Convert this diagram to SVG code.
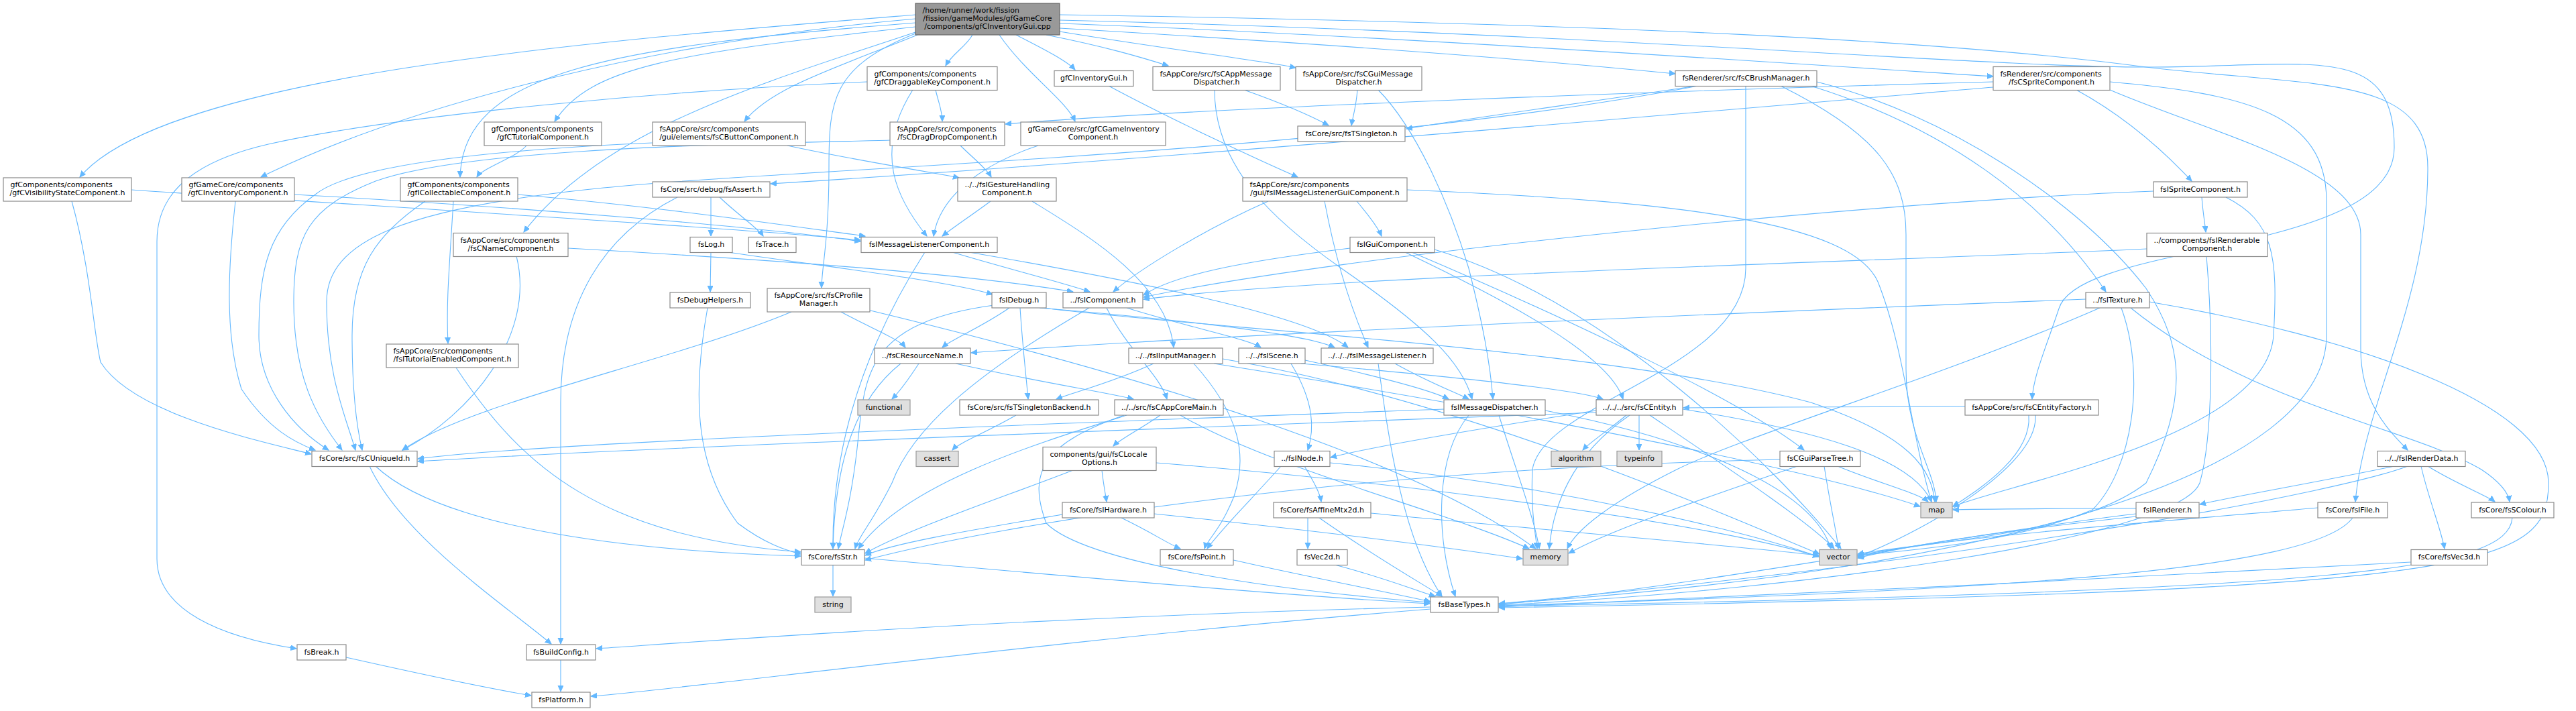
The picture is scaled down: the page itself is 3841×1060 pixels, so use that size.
<svg xmlns="http://www.w3.org/2000/svg" width="3841" height="1060" viewBox="0 0 3841 1060">
<defs>
<style>
.n rect{fill:#ffffff;stroke:#8a8a8a;stroke-width:1.2}
.g rect{fill:#e0e0e0;stroke:#999999;stroke-width:1.2}
.r rect{fill:#999999;stroke:#666666;stroke-width:1.2}
text{font-family:"DejaVu Sans","Liberation Sans",sans-serif;font-size:11px;fill:#000}
.m{text-anchor:middle}
.s{text-anchor:start}
#edges path{fill:none;stroke:#63b8ff;stroke-width:1.1;marker-end:url(#ah)}
</style>
<marker id="ah" markerUnits="userSpaceOnUse" markerWidth="12" markerHeight="10" refX="9" refY="4" orient="auto">
<path d="M0,0 L9,4 L0,8 z" fill="#63b8ff" stroke="#63b8ff"/>
</marker>
</defs>
<rect width="3841" height="1060" fill="#fff"/>
<g id="edges">
<path d="M1365,22 C900,60 250,110 119,264"/>
<path d="M1365,28 C1000,60 620,150 389,264"/>
<path d="M1365,34 C900,70 690,110 686,264"/>
<path d="M1365,40 C1000,80 880,100 827,181"/>
<path d="M1365,48 C1150,120 900,190 781,346"/>
<path d="M1450,52 C1440,70 1420,80 1410,98"/>
<path d="M1368,52 C1250,100 1150,130 1110,181"/>
<path d="M1515,52 C1550,70 1590,90 1603,104"/>
<path d="M1490,52 C1530,110 1590,150 1603,181"/>
<path d="M1560,52 C1650,70 1700,85 1742,98"/>
<path d="M1580,47 C1750,75 1880,90 1932,101"/>
<path d="M1580,42 C1800,55 2200,80 2498,110"/>
<path d="M1580,35 C2000,50 2600,90 2972,114"/>
<path d="M1580,30 C2400,50 2950,100 3200,100 C3450,100 3570,60 3570,220 C3570,380 3100,360 3070,460 C3050,520 3032,560 3030,595"/>
<path d="M1580,22 C2400,35 2900,60 3200,100 C3450,130 3620,110 3620,250 C3620,450 3525,600 3512,748"/>
<path d="M1365,50 C1240,100 1236,150 1236,250 C1236,360 1225,400 1225,429"/>
<path d="M785,217 C770,235 720,250 711,264"/>
<path d="M1395,134 C1400,155 1405,165 1405,181"/>
<path d="M1361,134 C1300,230 1340,300 1382,352"/>
<path d="M1293,122 C1000,135 600,170 400,215 C270,245 234,300 234,360 L234,833 C234,910 330,950 442,967"/>
<path d="M973,213 C700,225 520,250 470,290 C400,340 386,400 386,500 C386,580 440,640 490,671"/>
<path d="M1327,209 C1100,215 700,220 560,270 C460,310 438,350 438,450 C438,560 470,620 510,671"/>
<path d="M1174,217 C1280,240 1380,255 1430,265"/>
<path d="M1432,217 C1450,235 1470,250 1478,264"/>
<path d="M1548,217 C1450,250 1400,300 1392,352"/>
<path d="M1653,128 C1750,180 1880,240 1935,264"/>
<path d="M1855,134 C1900,150 1950,170 1981,187"/>
<path d="M1811,134 C1811,250 1900,330 2000,400 C2130,490 2180,540 2195,595"/>
<path d="M2024,134 C2022,160 2017,175 2015,187"/>
<path d="M2055,134 C2110,190 2160,300 2190,400 C2210,480 2222,540 2226,595"/>
<path d="M2530,128 C2350,155 2200,175 2097,192"/>
<path d="M2532,128 C2000,230 1200,250 900,280 C600,310 487,360 487,450 C487,560 515,620 530,671"/>
<path d="M2603,128 L2603,400 C2603,550 2300,600 2285,700 C2282,760 2290,800 2292,818"/>
<path d="M2655,128 C2800,200 2842,260 2842,350 L2842,550 C2842,650 2885,700 2887,748"/>
<path d="M2700,128 C2900,190 3050,300 3140,435"/>
<path d="M2709,122 C2900,170 3100,300 3200,430 C3260,520 3260,600 3200,720 C3100,800 2850,810 2770,826"/>
<path d="M3096,134 C3180,180 3240,240 3268,270"/>
<path d="M3146,134 C3300,200 3520,250 3520,350 L3520,520 C3520,600 3560,640 3590,671"/>
<path d="M3146,122 C3350,140 3469,170 3469,300 L3469,500 C3469,700 3000,850 2235,900"/>
<path d="M2972,122 C2500,135 1800,160 1499,185"/>
<path d="M2972,130 C2500,170 1700,240 1149,274"/>
<path d="M3283,294 C3285,320 3288,335 3289,346"/>
<path d="M3319,294 C3390,330 3397,380 3390,500 C3380,650 3000,720 2912,755"/>
<path d="M3211,285 C2800,300 2000,380 1705,443"/>
<path d="M3201,371 C2800,390 2000,410 1705,446"/>
<path d="M3290,382 C3300,500 3300,650 3280,720 C3250,800 2700,880 2235,902"/>
<path d="M3110,446 C2500,470 1800,500 1448,526"/>
<path d="M3131,459 C2900,560 2600,650 2500,700 C2400,750 2350,790 2337,818"/>
<path d="M3163,459 C3200,560 3180,700 3120,760 C3000,810 2850,820 2770,828"/>
<path d="M3177,459 C3350,600 3600,640 3700,700 C3730,720 3740,735 3742,748"/>
<path d="M3205,450 C3500,500 3800,600 3800,720 C3800,850 3700,880 2235,906"/>
<path d="M1539,300 C1620,350 1740,420 1750,518"/>
<path d="M1477,300 C1450,320 1420,340 1405,352"/>
<path d="M2023,300 C2040,320 2055,340 2060,352"/>
<path d="M1975,300 C1990,380 2010,450 2040,518"/>
<path d="M2098,283 C2500,300 2760,330 2800,420 C2840,520 2850,650 2880,748"/>
<path d="M1891,300 C1800,340 1700,400 1660,435"/>
<path d="M1420,376 C1500,400 1580,420 1625,435"/>
<path d="M1445,376 C1700,420 1950,470 2010,518"/>
<path d="M1379,376 C1300,500 1240,650 1242,818"/>
<path d="M2013,370 C1850,390 1750,410 1705,440"/>
<path d="M2095,376 C2250,450 2400,530 2420,595"/>
<path d="M2105,376 C2350,480 2600,600 2690,671"/>
<path d="M2139,372 C2400,450 2650,700 2745,818"/>
<path d="M1505,459 C1460,490 1420,505 1405,518"/>
<path d="M1521,459 C1525,520 1530,560 1533,595"/>
<path d="M1482,455 C1300,480 1290,550 1280,650 C1270,750 1255,790 1250,818"/>
<path d="M1550,459 C1800,480 1950,500 1990,518"/>
<path d="M1555,459 C1800,490 2400,520 2700,600 C2850,650 2880,700 2885,748"/>
<path d="M1060,376 L1059,435"/>
<path d="M1085,376 C1250,400 1420,420 1480,439"/>
<path d="M1055,459 C1030,600 1040,700 1100,780 C1140,810 1170,820 1194,826"/>
<path d="M1254,465 C1300,490 1340,505 1350,518"/>
<path d="M1180,465 C1000,540 700,600 600,671"/>
<path d="M1294,462 C1700,560 2100,680 2290,818"/>
<path d="M1650,459 C1680,520 1730,560 1740,595"/>
<path d="M1680,459 C1780,490 1860,505 1880,518"/>
<path d="M1624,459 C1450,560 1360,640 1330,720 C1300,780 1280,800 1275,818"/>
<path d="M1370,542 C1355,565 1340,585 1330,595"/>
<path d="M1425,542 C1550,570 1650,585 1690,595"/>
<path d="M1343,542 C1270,600 1245,700 1242,818"/>
<path d="M1720,542 C1660,570 1600,585 1575,595"/>
<path d="M1780,542 C1850,620 1860,680 1840,740 C1820,790 1800,805 1796,818"/>
<path d="M1823,535 C2200,600 2600,780 2713,826"/>
<path d="M1810,542 C2300,620 2700,700 2863,755"/>
<path d="M1925,542 C1960,600 1960,640 1950,671"/>
<path d="M1946,537 C2050,560 2130,580 2160,595"/>
<path d="M1940,542 C2150,560 2350,580 2390,595"/>
<path d="M2080,542 C2130,570 2170,585 2190,595"/>
<path d="M2055,542 C2070,650 2090,800 2150,889"/>
<path d="M1515,619 C1470,645 1430,660 1420,671"/>
<path d="M1730,619 C1700,640 1670,655 1660,665"/>
<path d="M1680,619 C1550,660 1350,720 1280,818"/>
<path d="M1760,619 C1900,700 2150,760 2280,818"/>
<path d="M1676,619 C1560,660 1530,700 1560,780 C1620,840 1900,880 2132,898"/>
<path d="M1643,701 C1645,720 1648,735 1650,748"/>
<path d="M1600,701 C1500,740 1350,790 1290,825"/>
<path d="M1724,690 C2100,720 2550,780 2712,830"/>
<path d="M1584,767 C1450,790 1330,810 1290,828"/>
<path d="M1672,772 C1720,795 1740,810 1760,818"/>
<path d="M1721,766 C1950,790 2150,815 2270,833"/>
<path d="M2190,619 C2140,680 2140,800 2170,889"/>
<path d="M2235,619 C2260,700 2290,780 2295,818"/>
<path d="M2304,612 C2500,650 2700,720 2730,818"/>
<path d="M2153,610 C1600,630 800,660 623,684"/>
<path d="M2425,619 C2400,640 2370,660 2360,671"/>
<path d="M2444,619 L2444,671"/>
<path d="M2380,612 C2200,640 2050,665 1984,682"/>
<path d="M2430,619 C2340,680 2315,760 2310,818"/>
<path d="M2460,619 C2580,700 2700,780 2735,818"/>
<path d="M2509,610 C2700,640 2850,680 2880,748"/>
<path d="M2380,615 C1700,640 900,670 623,688"/>
<path d="M2930,606 C2800,606 2650,607 2510,608"/>
<path d="M3025,619 C3030,680 2950,730 2912,755"/>
<path d="M3035,619 C3040,700 2850,800 2770,830"/>
<path d="M1945,695 C1960,720 1968,735 1970,748"/>
<path d="M1910,695 C1870,740 1820,790 1800,818"/>
<path d="M1983,690 C2300,720 2600,790 2712,830"/>
<path d="M2720,695 C2730,760 2740,800 2741,818"/>
<path d="M2740,695 C2800,720 2860,735 2875,748"/>
<path d="M2654,685 C2000,700 1500,780 1290,835"/>
<path d="M2680,695 C2550,740 2400,790 2339,825"/>
<path d="M3570,695 C3450,720 3330,740 3280,752"/>
<path d="M3620,695 C3660,720 3710,740 3720,748"/>
<path d="M3610,695 C3620,740 3640,790 3645,818"/>
<path d="M3590,695 C3500,730 3000,830 2235,900"/>
<path d="M1950,772 L1950,818"/>
<path d="M1967,772 C2050,830 2120,870 2150,889"/>
<path d="M2044,765 C2300,790 2600,815 2712,828"/>
<path d="M3185,766 C2900,800 2500,880 2235,901"/>
<path d="M3185,758 C3050,758 2960,759 2912,760"/>
<path d="M3185,770 C3000,790 2850,812 2770,832"/>
<path d="M3508,772 C3450,850 3000,880 2235,903"/>
<path d="M3456,757 C3200,780 2900,800 2770,830"/>
<path d="M3746,772 C3740,850 3500,880 2235,904"/>
<path d="M3595,838 C3200,860 2600,890 2235,905"/>
<path d="M1839,835 C1950,860 2080,885 2133,897"/>
<path d="M1990,842 C2060,860 2110,880 2140,889"/>
<path d="M1242,842 L1242,889"/>
<path d="M1289,832 C1600,860 1950,890 2132,900"/>
<path d="M2133,905 C1500,920 1000,960 889,967"/>
<path d="M2133,908 C1600,950 1000,1030 881,1038"/>
<path d="M836,984 L836,1031"/>
<path d="M516,980 C650,1010 750,1030 792,1037"/>
<path d="M551,695 C600,800 750,900 822,960"/>
<path d="M560,695 C650,780 900,820 1194,829"/>
<path d="M680,548 C780,700 900,800 1194,823"/>
<path d="M1010,294 C900,350 836,450 836,600 L836,960"/>
<path d="M1060,294 L1060,352"/>
<path d="M1073,294 C1100,320 1130,340 1138,352"/>
<path d="M770,382 C800,500 700,620 600,671"/>
<path d="M847,370 C1200,390 1450,410 1600,435"/>
<path d="M107,300 C135,400 140,500 150,540 C200,620 400,660 464,677"/>
<path d="M196,283 C600,310 1100,340 1283,358"/>
<path d="M351,300 C340,400 335,500 360,580 C400,640 440,660 470,671"/>
<path d="M439,290 C800,310 1150,340 1283,360"/>
<path d="M634,300 C560,350 525,400 525,500 C525,600 535,650 540,671"/>
<path d="M772,290 C1000,310 1200,340 1290,352"/>
<path d="M676,300 C670,400 665,450 668,512"/>
</g>
<g id="root" class="r"><rect x="1365" y="5" width="215" height="47"/><text class="s" x="1375.5" y="19.3">/home/runner/work/fission</text><text class="m" x="1472.5" y="31.3">/fission/gameModules/gfGameCore</text><text class="m" x="1472.5" y="43.3">/components/gfCInventoryGui.cpp</text></g>
<g id="gfCDraggableKeyComponent" class="n"><rect x="1293" y="99.5" width="194" height="35"/><text class="s" x="1303.5" y="113.8">gfComponents/components</text><text class="m" x="1390" y="125.8">/gfCDraggableKeyComponent.h</text></g>
<g id="gfCInventoryGui_h" class="n"><rect x="1572" y="105.5" width="118" height="23"/><text class="m" x="1631" y="120">gfCInventoryGui.h</text></g>
<g id="fsCAppMessageDispatcher" class="n"><rect x="1719" y="99.5" width="190" height="35"/><text class="s" x="1729.5" y="113.8">fsAppCore/src/fsCAppMessage</text><text class="m" x="1814" y="125.8">Dispatcher.h</text></g>
<g id="fsCGuiMessageDispatcher" class="n"><rect x="1932" y="99.5" width="188" height="35"/><text class="s" x="1942.5" y="113.8">fsAppCore/src/fsCGuiMessage</text><text class="m" x="2026" y="125.8">Dispatcher.h</text></g>
<g id="fsCBrushManager" class="n"><rect x="2498" y="105.5" width="211" height="23"/><text class="m" x="2603.5" y="120">fsRenderer/src/fsCBrushManager.h</text></g>
<g id="fsCSpriteComponent" class="n"><rect x="2972" y="99.5" width="174" height="35"/><text class="s" x="2982.5" y="113.8">fsRenderer/src/components</text><text class="m" x="3059" y="125.8">/fsCSpriteComponent.h</text></g>
<g id="gfCTutorialComponent" class="n"><rect x="722" y="182" width="175" height="35"/><text class="s" x="732.5" y="196.3">gfComponents/components</text><text class="m" x="809.5" y="208.3">/gfCTutorialComponent.h</text></g>
<g id="fsCButtonComponent" class="n"><rect x="973" y="182" width="228" height="35"/><text class="s" x="983.5" y="196.3">fsAppCore/src/components</text><text class="m" x="1087" y="208.3">/gui/elements/fsCButtonComponent.h</text></g>
<g id="fsCDragDropComponent" class="n"><rect x="1327" y="182" width="171" height="35"/><text class="s" x="1337.5" y="196.3">fsAppCore/src/components</text><text class="m" x="1412.5" y="208.3">/fsCDragDropComponent.h</text></g>
<g id="gfCGameInventoryComponent" class="n"><rect x="1522" y="182" width="216" height="35"/><text class="s" x="1532.5" y="196.3">gfGameCore/src/gfCGameInventory</text><text class="m" x="1630" y="208.3">Component.h</text></g>
<g id="fsTSingleton" class="n"><rect x="1935" y="188" width="160" height="23"/><text class="m" x="2015" y="202.5">fsCore/src/fsTSingleton.h</text></g>
<g id="gfCVisibilityStateComponent" class="n"><rect x="5" y="265" width="191" height="35"/><text class="s" x="15.5" y="279.3">gfComponents/components</text><text class="m" x="100.5" y="291.3">/gfCVisibilityStateComponent.h</text></g>
<g id="gfCInventoryComponent" class="n"><rect x="271" y="265" width="168" height="35"/><text class="s" x="281.5" y="279.3">gfGameCore/components</text><text class="m" x="355" y="291.3">/gfCInventoryComponent.h</text></g>
<g id="gfICollectableComponent" class="n"><rect x="597" y="265" width="175" height="35"/><text class="s" x="607.5" y="279.3">gfComponents/components</text><text class="m" x="684.5" y="291.3">/gfICollectableComponent.h</text></g>
<g id="fsAssert" class="n"><rect x="973" y="271" width="175" height="23"/><text class="m" x="1060.5" y="285.5">fsCore/src/debug/fsAssert.h</text></g>
<g id="fsIGestureHandlingComponent" class="n"><rect x="1428" y="265" width="147" height="35"/><text class="s" x="1438.5" y="279.3">../../fsIGestureHandling</text><text class="m" x="1501.5" y="291.3">Component.h</text></g>
<g id="fsIMessageListenerGuiComponent" class="n"><rect x="1853" y="265" width="245" height="35"/><text class="s" x="1863.5" y="279.3">fsAppCore/src/components</text><text class="m" x="1975.5" y="291.3">/gui/fsIMessageListenerGuiComponent.h</text></g>
<g id="fsISpriteComponent" class="n"><rect x="3211" y="271" width="140" height="23"/><text class="m" x="3281" y="285.5">fsISpriteComponent.h</text></g>
<g id="fsCNameComponent" class="n"><rect x="676" y="347.5" width="171" height="35"/><text class="s" x="686.5" y="361.8">fsAppCore/src/components</text><text class="m" x="761.5" y="373.8">/fsCNameComponent.h</text></g>
<g id="fsLog" class="n"><rect x="1029" y="353.5" width="63" height="23"/><text class="m" x="1060.5" y="368">fsLog.h</text></g>
<g id="fsTrace" class="n"><rect x="1116" y="353.5" width="71" height="23"/><text class="m" x="1151.5" y="368">fsTrace.h</text></g>
<g id="fsIMessageListenerComponent" class="n"><rect x="1284" y="353.5" width="203" height="23"/><text class="m" x="1385.5" y="368">fsIMessageListenerComponent.h</text></g>
<g id="fsIGuiComponent" class="n"><rect x="2013" y="353.5" width="126" height="23"/><text class="m" x="2076" y="368">fsIGuiComponent.h</text></g>
<g id="fsIRenderableComponent" class="n"><rect x="3201" y="347.5" width="180" height="35"/><text class="s" x="3211.5" y="361.8">../components/fsIRenderable</text><text class="m" x="3291" y="373.8">Component.h</text></g>
<g id="fsDebugHelpers" class="n"><rect x="999" y="436" width="120" height="23"/><text class="m" x="1059" y="450.5">fsDebugHelpers.h</text></g>
<g id="fsCProfileManager" class="n"><rect x="1144" y="430" width="153" height="35"/><text class="s" x="1154.5" y="444.3">fsAppCore/src/fsCProfile</text><text class="m" x="1220.5" y="456.3">Manager.h</text></g>
<g id="fsIDebug" class="n"><rect x="1479" y="436" width="81" height="23"/><text class="m" x="1519.5" y="450.5">fsIDebug.h</text></g>
<g id="fsIComponent" class="n"><rect x="1585" y="436" width="119" height="23"/><text class="m" x="1644.5" y="450.5">../fsIComponent.h</text></g>
<g id="fsITexture" class="n"><rect x="3110" y="436" width="95" height="23"/><text class="m" x="3157.5" y="450.5">../fsITexture.h</text></g>
<g id="fsITutorialEnabledComponent" class="n"><rect x="576" y="513" width="197" height="35"/><text class="s" x="586.5" y="527.3">fsAppCore/src/components</text><text class="m" x="674.5" y="539.3">/fsITutorialEnabledComponent.h</text></g>
<g id="fsCResourceName" class="n"><rect x="1304" y="519" width="143" height="23"/><text class="m" x="1375.5" y="533.5">../fsCResourceName.h</text></g>
<g id="fsIInputManager" class="n"><rect x="1683" y="519" width="140" height="23"/><text class="m" x="1753" y="533.5">../../fsIInputManager.h</text></g>
<g id="fsIScene" class="n"><rect x="1847" y="519" width="99" height="23"/><text class="m" x="1896.5" y="533.5">../../fsIScene.h</text></g>
<g id="fsIMessageListener" class="n"><rect x="1970" y="519" width="167" height="23"/><text class="m" x="2053.5" y="533.5">../../../fsIMessageListener.h</text></g>
<g id="functional" class="g"><rect x="1279" y="596" width="78" height="23"/><text class="m" x="1318" y="610.5">functional</text></g>
<g id="fsTSingletonBackend" class="n"><rect x="1431" y="596" width="207" height="23"/><text class="m" x="1534.5" y="610.5">fsCore/src/fsTSingletonBackend.h</text></g>
<g id="fsCAppCoreMain" class="n"><rect x="1662" y="596" width="162" height="23"/><text class="m" x="1743" y="610.5">../../src/fsCAppCoreMain.h</text></g>
<g id="fsIMessageDispatcher" class="n"><rect x="2153" y="596" width="151" height="23"/><text class="m" x="2228.5" y="610.5">fsIMessageDispatcher.h</text></g>
<g id="fsCEntity" class="n"><rect x="2380" y="596" width="129" height="23"/><text class="m" x="2444.5" y="610.5">../../../src/fsCEntity.h</text></g>
<g id="fsCEntityFactory" class="n"><rect x="2930" y="596" width="199" height="23"/><text class="m" x="3029.5" y="610.5">fsAppCore/src/fsCEntityFactory.h</text></g>
<g id="fsCUniqueId" class="n"><rect x="465" y="672.5" width="157" height="23"/><text class="m" x="543.5" y="687">fsCore/src/fsCUniqueId.h</text></g>
<g id="cassert" class="g"><rect x="1366" y="672.5" width="63" height="23"/><text class="m" x="1397.5" y="687">cassert</text></g>
<g id="fsCLocaleOptions" class="n"><rect x="1555" y="666.5" width="169" height="35"/><text class="s" x="1565.5" y="680.8">components/gui/fsCLocale</text><text class="m" x="1639.5" y="692.8">Options.h</text></g>
<g id="fsINode" class="n"><rect x="1900" y="672.5" width="83" height="23"/><text class="m" x="1941.5" y="687">../fsINode.h</text></g>
<g id="algorithm" class="g"><rect x="2313" y="672.5" width="74" height="23"/><text class="m" x="2350" y="687">algorithm</text></g>
<g id="typeinfo" class="g"><rect x="2411" y="672.5" width="67" height="23"/><text class="m" x="2444.5" y="687">typeinfo</text></g>
<g id="fsCGuiParseTree" class="n"><rect x="2654" y="672.5" width="120" height="23"/><text class="m" x="2714" y="687">fsCGuiParseTree.h</text></g>
<g id="fsIRenderData" class="n"><rect x="3545" y="672.5" width="131" height="23"/><text class="m" x="3610.5" y="687">../../fsIRenderData.h</text></g>
<g id="fsIHardware" class="n"><rect x="1584" y="749" width="137" height="23"/><text class="m" x="1652.5" y="763.5">fsCore/fsIHardware.h</text></g>
<g id="fsAffineMtx2d" class="n"><rect x="1899" y="749" width="145" height="23"/><text class="m" x="1971.5" y="763.5">fsCore/fsAffineMtx2d.h</text></g>
<g id="map" class="g"><rect x="2864" y="749" width="47" height="23"/><text class="m" x="2887.5" y="763.5">map</text></g>
<g id="fsIRenderer" class="n"><rect x="3185" y="749" width="94" height="23"/><text class="m" x="3232" y="763.5">fsIRenderer.h</text></g>
<g id="fsIFile" class="n"><rect x="3456" y="749" width="104" height="23"/><text class="m" x="3508" y="763.5">fsCore/fsIFile.h</text></g>
<g id="fsSColour" class="n"><rect x="3685" y="749" width="123" height="23"/><text class="m" x="3746.5" y="763.5">fsCore/fsSColour.h</text></g>
<g id="fsStr" class="n"><rect x="1195" y="819.5" width="94" height="23"/><text class="m" x="1242" y="834">fsCore/fsStr.h</text></g>
<g id="fsPoint" class="n"><rect x="1730" y="819.5" width="109" height="23"/><text class="m" x="1784.5" y="834">fsCore/fsPoint.h</text></g>
<g id="fsVec2d" class="n"><rect x="1934" y="819.5" width="75" height="23"/><text class="m" x="1971.5" y="834">fsVec2d.h</text></g>
<g id="memory" class="g"><rect x="2271" y="819.5" width="67" height="23"/><text class="m" x="2304.5" y="834">memory</text></g>
<g id="vector" class="g"><rect x="2713" y="819.5" width="56" height="23"/><text class="m" x="2741" y="834">vector</text></g>
<g id="fsVec3d" class="n"><rect x="3595" y="819.5" width="114" height="23"/><text class="m" x="3652" y="834">fsCore/fsVec3d.h</text></g>
<g id="string" class="g"><rect x="1215" y="890" width="54" height="23"/><text class="m" x="1242" y="904.5">string</text></g>
<g id="fsBaseTypes" class="n"><rect x="2133" y="890" width="101" height="23"/><text class="m" x="2183.5" y="904.5">fsBaseTypes.h</text></g>
<g id="fsBreak" class="n"><rect x="443" y="961" width="73" height="23"/><text class="m" x="479.5" y="975.5">fsBreak.h</text></g>
<g id="fsBuildConfig" class="n"><rect x="785" y="961" width="103" height="23"/><text class="m" x="836.5" y="975.5">fsBuildConfig.h</text></g>
<g id="fsPlatform" class="n"><rect x="793" y="1032" width="87" height="23"/><text class="m" x="836.5" y="1046.5">fsPlatform.h</text></g>
</svg>
